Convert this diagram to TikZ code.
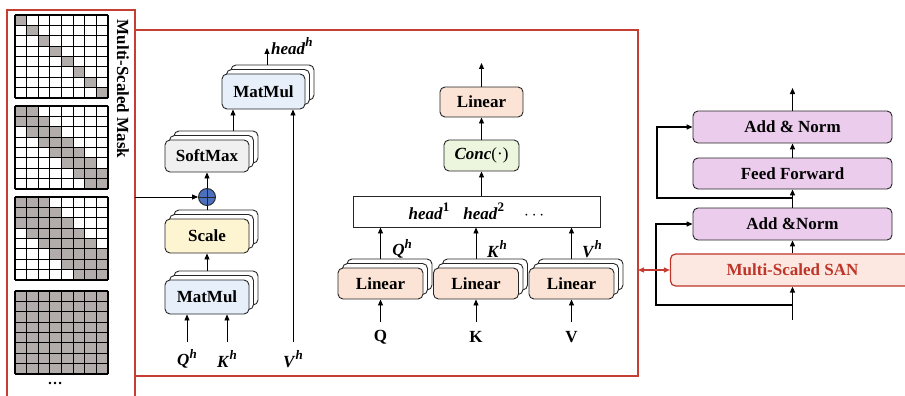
\documentclass[tikz,border=0pt]{standalone}
\usepackage{fontspec}
\setmainfont{Liberation Serif}
\usetikzlibrary{arrows.meta}
\definecolor{framered}{RGB}{196,62,52}
\definecolor{maskgray}{RGB}{178,172,170}
\definecolor{mmfill}{RGB}{230,239,250}
\definecolor{scfill}{RGB}{253,244,210}
\definecolor{smfill}{RGB}{240,240,240}
\definecolor{linfill}{RGB}{251,228,214}
\definecolor{concfill}{RGB}{236,245,222}
\definecolor{purp}{RGB}{235,204,236}
\definecolor{sanfill}{RGB}{252,232,224}
\definecolor{sanred}{RGB}{190,52,40}
\definecolor{plusblue}{RGB}{74,112,190}
\newcommand\sups[1]{\raisebox{0.45em}{\fontsize{13}{13}\selectfont #1}}
\newcommand\mv[2]{\textit{#1}\sups{\textit{#2}}}
\newcommand\stk[7]{%
  \node[box, fill=white, minimum width=#4pt, minimum height=#5pt] (#1b2) at ({#2+9},{#3-9}) {};
  \node[box, fill=white, minimum width=#4pt, minimum height=#5pt] (#1b1) at ({#2+4.5},{#3-4.5}) {};
  \node[box, fill=#6, minimum width=#4pt, minimum height=#5pt] (#1) at (#2,#3) {#7};
}
\begin{document}
\begin{tikzpicture}[x=1pt,y=-1pt, font=\fontsize{17}{20}\selectfont\bfseries,
  box/.style={draw=black!85, rounded corners=5pt, line width=0.9pt, inner sep=0pt, align=center},
  arr/.style={-{Triangle[length=6pt,width=5pt]}, line width=0.9pt},
  arrb/.style={-{Triangle[length=6pt,width=5pt]}, line width=1.3pt},
  lab/.style={inner sep=0pt}]
\useasboundingbox (0,0) rectangle (905,396);

% ---------- frames ----------
\draw[framered, line width=1.5pt] (7,400) -- (7,10) -- (135,10) -- (135,400);
\draw[framered, line width=1.5pt] (135,30) rectangle (638,376);

% ---------- masks ----------
\foreach \gtop/\kk in {15/0, 106/1, 197/2, 291/9} {
  \foreach \ii in {0,...,7} {
    \foreach \jj in {0,...,7} {
      \pgfmathtruncatemacro\on{abs(\ii-\jj)<=\kk}
      \ifnum\on=1
        \fill[maskgray] ({15+\jj*11.625},{\gtop+\ii*10.375}) rectangle ++(11.625,10.375);
      \fi
    }
  }
  \foreach \mm in {0,...,8} {
    \draw[line width=1.2pt] ({15+\mm*11.625},\gtop) -- ++(0,83);
    \draw[line width=1.2pt] (15,{\gtop+\mm*10.375}) -- ++(93,0);
  }
}
\node[lab, rotate=-90] (masktitle) at (123,89) {Multi-Scaled Mask};
\node[lab, font=\fontsize{15}{15}\selectfont\bfseries] (maskdots) at (55,383) {…};

% ---------- scaled dot-product attention ----------
\stk{mmb}{207}{297}{84}{34}{mmfill}{MatMul}
\stk{sc}{207}{236}{84}{34}{scfill}{Scale}
\stk{sm}{207}{156}{84}{32}{smfill}{SoftMax}
\stk{mmt}{263.5}{91.5}{83}{35}{mmfill}{MatMul}
\node[circle, draw=black!85, fill=plusblue, line width=0.9pt, minimum size=17pt, inner sep=0pt] (plus) at (207,197) {};
\draw[line width=0.9pt, black!85] (plus.north) -- (plus.south) (plus.west) -- (plus.east);

\coordinate (qin) at (187,342);
\coordinate (kin) at (227,342);
\coordinate (vin) at (293,342);
\coordinate (smx) at (233,0);
\coordinate (hx) at (267,0);
\coordinate (hout) at (267,48);
\coordinate (maskout) at (135,197);
\node[lab] (qhl) at (187,359) {\mv{Q}{h}};
\node[lab] (khl) at (227,359) {\mv{K}{h}};
\node[lab] (vhl) at (293,359) {\mv{V}{h}};
\draw[arr] (qin) -- (qin |- mmb.south);
\draw[arr] (kin) -- (kin |- mmb.south);
\draw[arr] (vin) -- (vin |- mmt.south);
\draw[arr] (mmb.center |- mmbb2.north) -- (sc.south);
\draw[line width=0.9pt] (sc.center |- scb2.north) -- (plus.south);
\draw[arr] (plus.north) -- (sm.south);
\draw[arr] (smb2.north -| smx) -- (smx |- mmt.south);
\draw[arr] (mmtb2.north -| hx) -- (hout);
\draw[arr] (maskout) -- (plus.west);
\node[lab, anchor=west] (headh) at (271,46) {\textit{head}\sups{\textit{h}}};

% ---------- multi-head ----------
\node[box, fill=linfill, minimum width=83pt, minimum height=30pt] (lin) at (481.5,102) {Linear};
\node[box, fill=concfill, minimum width=75pt, minimum height=31pt] (conc) at (481.5,155.5) {\textit{Conc}\textmd{(·)}};
\node[draw=black!85, line width=0.9pt, fill=white, minimum width=247pt, minimum height=31pt, inner sep=0pt] (heads) at (476.5,211.5) {\textit{head}\sups{1}\hspace{14pt}\textit{head}\sups{2}\hspace{20pt}\textmd{$\cdots$}};
\coordinate (linout) at (481.5,63);
\draw[arr] (lin.north) -- (linout);
\draw[arr] (conc.north) -- (lin.south);
\draw[arr] (heads.north -| conc.south) -- (conc.south);

\stk{la}{380.5}{283.5}{85}{31}{linfill}{Linear}
\stk{lb}{476}{283.5}{85}{31}{linfill}{Linear}
\stk{lc}{571.5}{283.5}{85}{31}{linfill}{Linear}
\draw[arr] (la.center |- lab2.north) -- (la.center |- heads.south);
\draw[arr] (lb.center |- lbb2.north) -- (lb.center |- heads.south);
\draw[arr] (lc.center |- lcb2.north) -- (lc.center |- heads.south);
\node[lab] (qhm) at (402,249) {\mv{Q}{h}};
\node[lab] (khm) at (497,249) {\mv{K}{h}};
\node[lab] (vhm) at (592,249) {\mv{V}{h}};
\coordinate (qq) at (380.5,322);
\coordinate (kk) at (476,322);
\coordinate (vv) at (571.5,322);
\draw[arr] (qq) -- (la.south);
\draw[arr] (kk) -- (lb.south);
\draw[arr] (vv) -- (lc.south);
\node[lab] (ql) at (380.5,337) {Q};
\node[lab] (kl) at (476,337) {K};
\node[lab] (vl) at (571.5,337) {V};

% ---------- encoder block ----------
\node[box, fill=purp, minimum width=199pt, minimum height=32pt] (an1) at (792.5,127) {Add \& Norm};
\node[box, fill=purp, minimum width=199pt, minimum height=31pt] (ff) at (792.5,173.5) {Feed Forward};
\node[box, fill=purp, minimum width=199pt, minimum height=32pt] (an2) at (792.5,224) {Add \&Norm};
\node[box, draw=sanred, fill=sanfill, text=sanred, line width=1.2pt, minimum width=244pt, minimum height=32pt] (san) at (792.5,270) {Multi-Scaled SAN};
\coordinate (encout) at (792.5,88);
\coordinate (encin) at (792.5,320);
\coordinate (r1) at (792.5,305);
\coordinate (r1c) at (656,305);
\coordinate (r2) at (792.5,198);
\coordinate (r2c) at (657,198);
\coordinate (sanlink) at (638,270);
\draw[arrb] (an1.north) -- (encout);
\draw[arrb] (ff.north) -- (an1.south);
\draw[arrb] (an2.north) -- (ff.south);
\draw[arrb] (san.north) -- (an2.south);
\draw[arrb] (encin) -- (san.south);
\draw[arrb] (r1) -- (r1c) -- (r1c |- an2.west) -- (an2.west);
\draw[arrb] (r2) -- (r2c) -- (r2c |- an1.west) -- (an1.west);
\draw[{Triangle[length=6pt,width=5pt]}-{Triangle[length=6pt,width=5pt]}, framered, line width=1.3pt] (sanlink) -- (san.west);
\end{tikzpicture}
\end{document}
